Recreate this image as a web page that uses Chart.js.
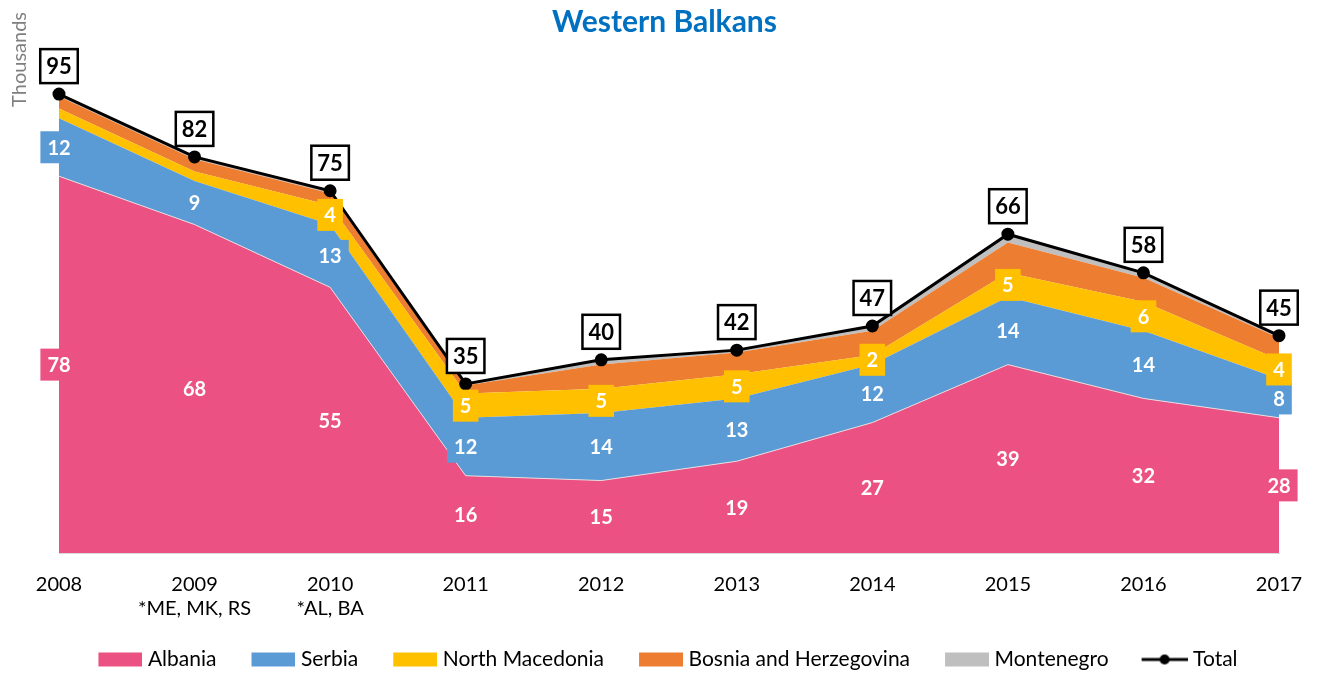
<!DOCTYPE html>
<html>
<head>
<meta charset="utf-8">
<title>Western Balkans</title>
<script src="https://cdn.jsdelivr.net/npm/chart.js@4.4.1/dist/chart.umd.min.js"></script>
<style>
  html, body { margin: 0; padding: 0; background: #fff; }
  #wrap { width: 1317px; height: 673px; }
</style>
</head>
<body>
<div id="wrap"><canvas id="chart"></canvas></div>
<script>
// Values in thousands
const years = ['2008', ['2009', '*ME, MK, RS'], ['2010', '*AL, BA'], '2011', '2012', '2013', '2014', '2015', '2016', '2017'];

const albania        = [78, 68, 55, 16, 15, 19, 27, 39, 32, 28];
const serbia         = [12, 9, 13, 12, 14, 13, 12, 14, 14, 8];
const northMacedonia = [2, 2, 4, 5, 5, 5, 2, 5, 6, 4];
const bosnia         = [2.5, 2.5, 2.5, 1.7, 5, 4.5, 5, 6.3, 5, 4.5];
const montenegro     = [0.5, 0.5, 0.5, 0.3, 1, 0.5, 1, 1.7, 1, 0.5];
const total          = [95, 82, 75, 35, 40, 42, 47, 66, 58, 45];

// which points carry a value label (North Macedonia only from 2010 on)
const macedoniaLabelled = [false, false, true, true, true, true, true, true, true, true];

const FONT = 'Lato, "Open Sans", sans-serif';
Chart.defaults.font.family = FONT;
Chart.defaults.font.size = 20;
Chart.defaults.color = '#000';

const series = [
    { label: 'Albania', data: albania, color: '#EC5183', labels: albania.map(() => true) },
    { label: 'Serbia', data: serbia, color: '#5B9BD5', labels: serbia.map(() => true) },
    { label: 'North Macedonia', data: northMacedonia, color: '#FFC000', labels: macedoniaLabelled },
    { label: 'Bosnia and Herzegovina', data: bosnia, color: '#ED7D31', labels: null },
    { label: 'Montenegro', data: montenegro, color: '#BFBFBF', labels: null }
];

// legend icons: a colour box, or a line with a dot for Total
function legendIcon(color, isLine) {
    const c = document.createElement('canvas');
    c.width = 56;
    c.height = 20;
    const g = c.getContext('2d');
    if (isLine) {
        g.strokeStyle = '#000';
        g.lineWidth = 3;
        g.beginPath();
        g.moveTo(10, 10);
        g.lineTo(56, 10);
        g.stroke();
        g.fillStyle = '#000';
        g.beginPath();
        g.arc(33, 10, 5, 0, Math.PI * 2);
        g.fill();
    } else {
        g.fillStyle = color;
        g.fillRect(12, 3, 44, 14);
    }
    return c;
}

const datasets = series.map((s, i) => ({
    label: s.label,
    data: s.data,
    stack: 'countries',
    fill: i === 0 ? 'origin' : '-1',
    backgroundColor: s.color,
    borderColor: i === 0 ? 'rgba(230,230,230,0.9)' : s.color,
    borderWidth: i === 0 ? 1 : 0,
    pointRadius: 0,
    tension: 0
}));

datasets.push({
    label: 'Total',
    data: total,
    stack: 'total',
    fill: false,
    order: -1,
    borderColor: '#000',
    backgroundColor: '#000',
    borderWidth: 3,
    pointRadius: 5,
    pointBackgroundColor: '#000',
    pointBorderColor: '#000',
    tension: 0
});

// Draw value labels on the stacked areas and boxed totals on the line
const valueLabels = {
    id: 'valueLabels',
    afterDatasetsDraw(chart) {
        const { ctx, scales: { x, y } } = chart;
        ctx.save();
        ctx.textAlign = 'center';
        ctx.textBaseline = 'middle';
        ctx.font = 'bold 20px ' + FONT;

        series.forEach((s, si) => {
            if (!s.labels) return;
            s.data.forEach((v, i) => {
                if (!s.labels[i]) return;
                let base = 0;
                for (let k = 0; k < si; k++) base += series[k].data[i];
                const px = x.getPixelForValue(i);
                const py = y.getPixelForValue(base + v / 2);
                const text = String(Math.round(v));
                const w = ctx.measureText(text).width + 14;
                const h = 32;
                ctx.fillStyle = s.color;
                ctx.fillRect(px - w / 2, py - h / 2, w, h);
                ctx.fillStyle = '#fff';
                ctx.fillText(text, px, py + 1);
            });
        });

        ctx.font = 'bold 22px ' + FONT;
        total.forEach((v, i) => {
            const px = x.getPixelForValue(i);
            const py = y.getPixelForValue(v) - 28;
            const text = String(v);
            const w = ctx.measureText(text).width + 12;
            const h = 34;
            ctx.fillStyle = '#fff';
            ctx.fillRect(px - w / 2, py - h / 2, w, h);
            ctx.strokeStyle = '#000';
            ctx.lineWidth = 2.5;
            ctx.strokeRect(px - w / 2, py - h / 2, w, h);
            ctx.fillStyle = '#000';
            ctx.fillText(text, px, py + 1);
        });
        ctx.restore();
    }
};

new Chart(document.getElementById('chart'), {
    type: 'line',
    data: { labels: years, datasets: datasets },
    options: {
        responsive: true,
        maintainAspectRatio: false,
        animation: false,
        layout: { padding: { left: 50, right: 38, top: 0, bottom: 0 } },
        plugins: {
            title: {
                display: true,
                text: 'Western Balkans',
                color: '#0070C0',
                font: { size: 30, weight: 'bold' },
                padding: { top: 4, bottom: -28 }
            },
            legend: {
                position: 'bottom',
                maxHeight: 52,
                labels: {
                    usePointStyle: true,
                    pointStyleWidth: 46,
                    padding: 28,
                    color: '#000',
                    font: { size: 21 },
                    generateLabels: chart => chart.data.datasets.map((ds, i) => ({
                        text: ds.label,
                        fillStyle: ds.backgroundColor,
                        strokeStyle: ds.backgroundColor,
                        lineWidth: 0,
                        pointStyle: legendIcon(ds.backgroundColor, ds.label === 'Total'),
                        hidden: !chart.isDatasetVisible(i),
                        datasetIndex: i
                    }))
                }
            },
            tooltip: { enabled: false }
        },
        scales: {
            x: {
                grid: { display: false, drawTicks: false },
                border: { display: true, color: '#D9D9D9', width: 1 },
                ticks: { color: '#000', padding: 20, maxRotation: 0, autoSkip: false, font: { size: 20 } },
                afterFit: scale => {
                    scale.height = 68;
                    scale.paddingLeft = 0;
                    scale.paddingRight = 0;
                }
            },
            y: {
                stacked: true,
                min: 0,
                max: 112,
                grid: { display: false, drawTicks: false },
                border: { display: false },
                ticks: { display: false },
                title: {
                    display: true,
                    text: 'Thousands',
                    align: 'end',
                    color: '#7F7F7F',
                    font: { size: 20 },
                    // pulled left past the layout padding, so the title sits at the page edge
                    padding: { top: -42, bottom: 27 }
                }
            }
        }
    },
    plugins: [valueLabels]
});
</script>
</body>
</html>
